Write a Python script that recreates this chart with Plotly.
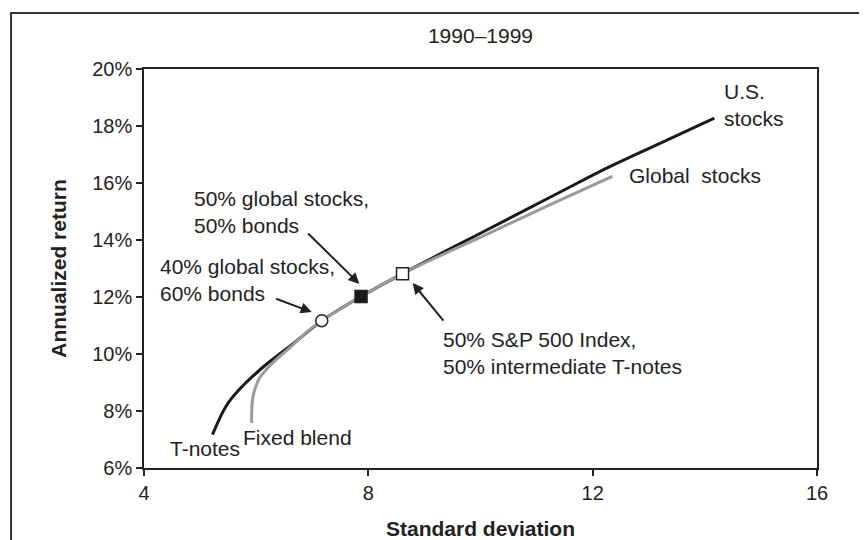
import plotly.graph_objects as go

# curves: standard deviation vs annualized return (%)
us_sd = [5.22, 5.46, 5.67, 6.14, 6.56, 7.04, 7.17, 7.87, 8.61, 10.12, 11.31, 12.26, 13.2, 14.17]
us_ret = [7.17, 8.16, 8.69, 9.57, 10.21, 10.97, 11.17, 12.02, 12.82, 14.36, 15.57, 16.53, 17.39, 18.28]

blend_sd = [5.92, 5.94, 6.05, 6.28, 6.6, 6.97, 7.17, 7.87, 8.61, 10.12, 11.31, 12.35]
blend_ret = [7.58, 8.46, 9.12, 9.66, 10.22, 10.88, 11.17, 12.02, 12.82, 14.21, 15.30, 16.23]

# marked portfolios
port_names = ["40% global stocks, 60% bonds", "50% global stocks, 50% bonds",
              "50% S&P 500 Index, 50% intermediate T-notes"]
port_sd = [7.17, 7.87, 8.61]
port_ret = [11.17, 12.02, 12.82]
port_symbol = ["circle", "square", "square"]
port_fill = ["white", "#1a1a1a", "white"]

# text labels (left edge x, middle y) and their arrows (tail -> head)
label_text = ["U.S.<br>stocks", "Global  stocks", "50% global stocks,<br>50% bonds",
              "40% global stocks,<br>60% bonds", "50% S&P 500 Index,<br>50% intermediate T-notes",
              "T-notes", "Fixed blend"]
label_x = [14.31, 12.62, 4.86, 4.25, 9.29, 4.43, 5.73]
label_y = [18.74, 16.25, 14.98, 12.60, 10.04, 6.70, 7.08]

arrow_tail_x = [6.90, 6.33, 9.36]
arrow_tail_y = [14.28, 11.96, 11.12]
arrow_head_x = [7.84, 6.99, 8.79]
arrow_head_y = [12.46, 11.47, 12.49]

x_ticks = [4, 8, 12, 16]
y_ticks = [6, 8, 10, 12, 14, 16, 18, 20]
y_tick_text = ["6%", "8%", "10%", "12%", "14%", "16%", "18%", "20%"]

FONT = "Liberation Sans, Arial, Helvetica, sans-serif"
INK = "#222222"

fig = go.Figure()
fig.add_trace(go.Scatter(x=us_sd, y=us_ret, mode="lines",
                         line=dict(color="#1a1a1a", width=3, shape="spline", smoothing=1.0),
                         name="U.S. stocks"))
fig.add_trace(go.Scatter(x=blend_sd, y=blend_ret, mode="lines",
                         line=dict(color="#9a9a9a", width=3, shape="spline", smoothing=1.0),
                         name="Global stocks"))
fig.add_trace(go.Scatter(x=port_sd, y=port_ret, mode="markers", text=port_names,
                         marker=dict(symbol=port_symbol, color=port_fill, size=12,
                                     line=dict(color=INK, width=1.5)),
                         name="Portfolios"))

for t, x, y in zip(label_text, label_x, label_y):
    fig.add_annotation(x=x, y=y, text=t, showarrow=False, xanchor="left", yanchor="middle",
                       align="left", font=dict(size=21, color=INK, family=FONT))

for tx, ty, hx, hy in zip(arrow_tail_x, arrow_tail_y, arrow_head_x, arrow_head_y):
    fig.add_annotation(x=hx, y=hy, ax=tx, ay=ty, xref="x", yref="y", axref="x", ayref="y",
                       text="", showarrow=True, arrowhead=2, arrowsize=1.1,
                       arrowwidth=2, arrowcolor=INK)

# outer frame around the whole figure
fig.add_shape(type="rect", xref="paper", yref="paper",
              x0=-0.1975, x1=1.0813, y0=-0.1905, y1=1.1404,
              line=dict(color="#333333", width=2))

fig.update_layout(
    width=867, height=540,
    margin=dict(l=136, r=58, t=61, b=80),
    paper_bgcolor="white", plot_bgcolor="white",
    showlegend=False,
    font=dict(family=FONT, size=20, color=INK),
    title=dict(text="1990–1999", x=0.5, xanchor="center", y=1 - 28 / 540, yanchor="middle",
               xref="paper", font=dict(size=21, color=INK)),
)
fig.update_xaxes(range=[4, 16], tickvals=x_ticks, ticks="outside", ticklen=6, tickwidth=1.5,
                 tickcolor=INK, showline=True, linecolor=INK, linewidth=2, mirror=True,
                 showgrid=False, zeroline=False,
                 title=dict(text="<b>Standard deviation</b>", standoff=18,
                            font=dict(size=21, color=INK)))
fig.update_yaxes(range=[6, 20], tickvals=y_ticks, ticktext=y_tick_text, ticks="outside",
                 ticklen=6, tickwidth=1.5, tickcolor=INK, showline=True, linecolor=INK,
                 linewidth=1.5, mirror=True, showgrid=False, zeroline=False,
                 title=dict(text="<b>Annualized return</b>", standoff=20,
                            font=dict(size=21, color=INK)))

fig.write_html("out.html")
